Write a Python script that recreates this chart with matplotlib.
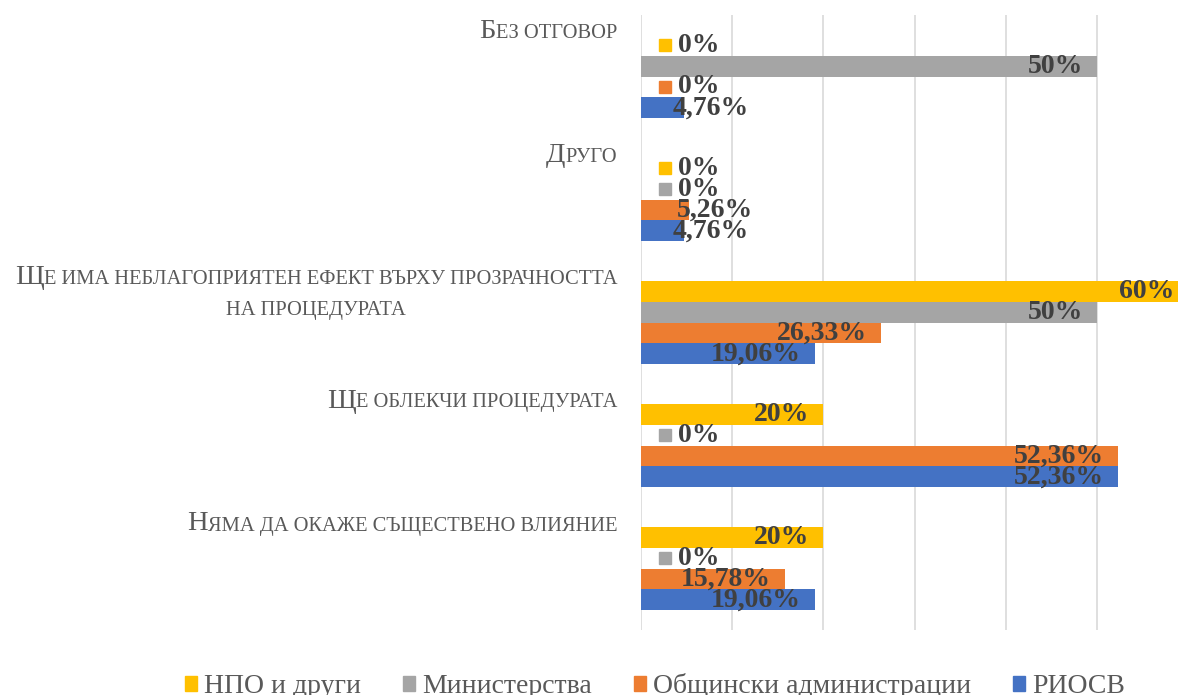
import numpy as np
import matplotlib
matplotlib.use("Agg")
import matplotlib.pyplot as plt
from matplotlib.patches import Patch
from matplotlib.transforms import IdentityTransform, ScaledTranslation

# categories bottom -> top
categories = [
    "Няма да окаже съществено влияние",
    "Ще облекчи процедурата",
    "Ще има неблагоприятен ефект върху прозрачността\nна процедурата",
    "Друго",
    "Без отговор",
]
# series bottom -> top inside each group
series = ["РИОСВ", "Общински администрации", "Министерства", "НПО и други"]
colors = ["#4472C4", "#ED7D31", "#A5A5A5", "#FFC000"]

riosv = [19.06, 52.36, 19.06, 4.76, 4.76]
obshtini = [15.78, 52.36, 26.33, 5.26, 0]
ministerstva = [0, 0, 50, 0, 50]
npo = [20, 20, 60, 0, 0]
values = [riosv, obshtini, ministerstva, npo]

W, H = 1178, 695
fig = plt.figure(figsize=(W / 100, H / 100), dpi=100)
ax = fig.add_axes([641 / W, 65 / H, 547 / W, 615 / H])

serif = "Liberation Serif"
lab_col = "#404040"
lab_size = 20
bh = 0.1707
y = np.arange(len(categories))
px = 0.72  # points per pixel at dpi 100

for i, (name, vals, c) in enumerate(zip(series, values, colors)):
    pos = y + (i - 1.5) * bh
    frac = np.array(vals) / 100
    ax.barh(pos, frac, height=bh, color=c, zorder=2)
    for p, v, raw in zip(pos, frac, vals):
        txt = ("%g" % raw).replace(".", ",") + "%"
        kw = dict(textcoords="offset points", va="center", fontsize=lab_size,
                  fontweight="bold", family=serif, color=lab_col, zorder=4,
                  annotation_clip=False)
        if v == 0:
            # legend key + label, as Excel draws it for empty bars
            ax.plot([0], [p], marker="s", ms=9, color=c, zorder=3, clip_on=False,
                    transform=ax.transData + ScaledTranslation(24 / 100, 0, fig.dpi_scale_trans))
            ax.annotate(txt, xy=(0, p), xytext=(37 * px, 0), ha="left", **kw)
        elif v < 0.1:
            ax.annotate(txt, xy=(v, p), xytext=(-12 * px, 0), ha="left", **kw)
        else:
            ax.annotate(txt, xy=(v, p), xytext=(-14 * px, 0), ha="right", **kw)

ax.set_xlim(0, 0.6)
ax.set_ylim(-0.5, len(categories) - 0.5)
ax.set_xticks(np.arange(0, 0.61, 0.1))
ax.set_yticks([])
ax.tick_params(length=0, labelbottom=False)
ax.grid(axis="x", color="#D9D9D9", lw=1.2, zorder=0)
for s in ax.spines.values():
    s.set_visible(False)

# category labels in small caps
r = fig.canvas.get_renderer()
big, small = 20.5, 14.8
cat_col = "#595959"


def runs_of(line):
    out = []
    for ch in line:
        size = big if ch.isupper() else small
        if out and out[-1][1] == size:
            out[-1][0] += ch.upper()
        else:
            out.append([ch.upper(), size])
    return out


def width_of(runs):
    ws = []
    for s, size in runs:
        t = fig.text(0, 0, s, fontsize=size, family=serif)
        ws.append(t.get_window_extent(r).width)
        t.remove()
    return ws


def put(runs, x0, base):
    ws = width_of(runs)
    x = x0
    for (s, size), w in zip(runs, ws):
        fig.text(x, base, s, fontsize=size, family=serif, color=cat_col,
                 va="baseline", ha="left", transform=IdentityTransform())
        x += w


right = ax.transAxes.transform((0, 0))[0] - 24
for k, cat in enumerate(categories):
    cy = ax.transData.transform((0, k))[1]
    base = cy + 38
    lines = cat.split("\n")
    r1 = runs_of(lines[0])
    w1 = sum(width_of(r1))
    put(r1, right - w1, base)
    mid = right - w1 / 2
    for j, ln in enumerate(lines[1:]):
        rr = runs_of(ln)
        w = sum(width_of(rr))
        put(rr, mid - w / 2, base - 30 * (j + 1))

handles = [Patch(color=c) for c in colors[::-1]]
fig.legend(handles, series[::-1], loc="center", bbox_to_anchor=(655 / W, 9 / H),
           ncol=4, frameon=False, handlelength=0.45, handleheight=0.45,
           handletextpad=0.25, columnspacing=1.5,
           prop={"family": serif, "size": 20}, labelcolor="#595959")

fig.savefig("out.png", dpi=100)
